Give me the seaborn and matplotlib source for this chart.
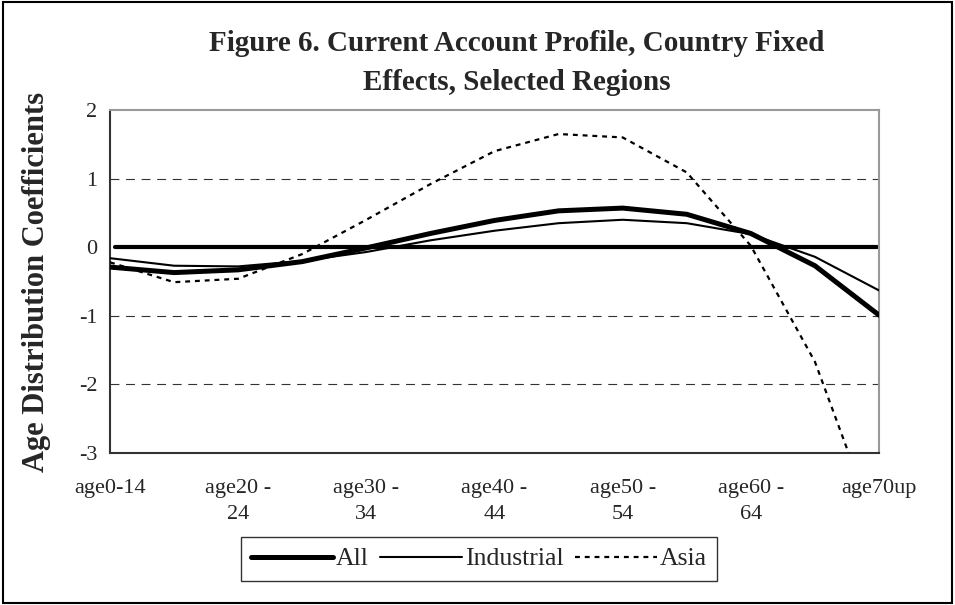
import numpy as np
import pandas as pd
import matplotlib.pyplot as plt
import seaborn as sns
from matplotlib.patches import Rectangle

# age groups on the x axis
ages = ["age0-14", "age15-19", "age20-24", "age25-29", "age30-34", "age35-39", "age40-44",
        "age45-49", "age50-54", "age55-59", "age60-64", "age65-69", "age70up"]
tick_labels = ["age0-14", "", "age20 -\n24", "", "age30 -\n34", "", "age40 -\n44",
               "", "age50 -\n54", "", "age60 -\n64", "", "age70up"]

# coefficients
all_vals = [-0.29, -0.37, -0.33, -0.21, -0.01, 0.20, 0.39, 0.53, 0.57, 0.48, 0.20, -0.27, -0.99]
industrial_vals = [-0.16, -0.27, -0.28, -0.20, -0.07, 0.10, 0.24, 0.35, 0.40, 0.35, 0.19, -0.14, -0.63]
asia_vals = [-0.22, -0.51, -0.46, -0.10, 0.40, 0.92, 1.40, 1.65, 1.60, 1.09, 0.02, -1.67, -4.2]

df = pd.DataFrame({"age": ages, "All": all_vals, "Industrial": industrial_vals, "Asia": asia_vals})

sns.set_style("white")
plt.rcParams['font.family'] = ['Liberation Serif', 'DejaVu Serif']

fig = plt.figure(figsize=(9.55, 6.05), dpi=100)
ax = fig.add_axes([110/955, 1-453/605, (879-110)/955, (453-110)/605])

# gridlines and zero line
for yv in [1, -1, -2]:
    ax.axhline(yv, color="#333333", lw=0.8, ls=(0, (8, 6)), zorder=1)
ax.axhline(0, xmin=0.007, xmax=0.997, color="black", lw=3.0, zorder=2)

x = np.arange(len(ages))
sns.lineplot(x=x, y=df["All"], ax=ax, color="black", lw=3.6, label="All", zorder=4)
sns.lineplot(x=x, y=df["Industrial"], ax=ax, color="black", lw=1.5, label="Industrial", zorder=3)
sns.lineplot(x=x, y=df["Asia"], ax=ax, color="black", lw=1.6, label="Asia", zorder=3,
             linestyle=(0, (2.2, 2.2)))

ax.set_xlim(0, len(ages) - 1)
ax.set_ylim(-3, 2)
ax.set_xticks(x)
ax.set_xticklabels(tick_labels, fontsize=16, linespacing=1.5)
ax.set_yticks([-3, -2, -1, 0, 1, 2])
ax.set_yticklabels(["-3", "-2", "-1", "0", "1", "2"], fontsize=16)
ax.tick_params(axis="both", direction="out", length=5, width=1, color="#333333", pad=4)
ax.tick_params(axis="x", pad=14)
ax.set_xlabel("")
ax.set_ylabel("Age Distribution Coefficients", fontsize=22, fontweight="bold", labelpad=20)

for s in ["top", "right"]:
    ax.spines[s].set_color("#999999")
    ax.spines[s].set_linewidth(1.5)
for s in ["left", "bottom"]:
    ax.spines[s].set_color("#333333")
    ax.spines[s].set_linewidth(1.5)

ax.get_legend().remove()
handles, labels = ax.get_legend_handles_labels()
leg = fig.legend(handles, labels, loc="center", bbox_to_anchor=(479/955, 1-559/605), ncol=3,
                 frameon=True, fancybox=False, edgecolor="black", fontsize=18.5,
                 handlelength=3.2, handletextpad=0.1, columnspacing=0.45, borderpad=0.4)
leg.get_frame().set_linewidth(1.0)

fig.text(517/955, 1-63/605, "Figure 6. Current Account Profile, Country Fixed\nEffects, Selected Regions",
         ha="center", va="center", fontsize=21, fontweight="bold", linespacing=1.55)

fig.patches.append(Rectangle((0.003, 0.004), 0.994, 0.993, transform=fig.transFigure,
                             fill=False, edgecolor="black", lw=1.5))

fig.savefig("out.png", dpi=100)
